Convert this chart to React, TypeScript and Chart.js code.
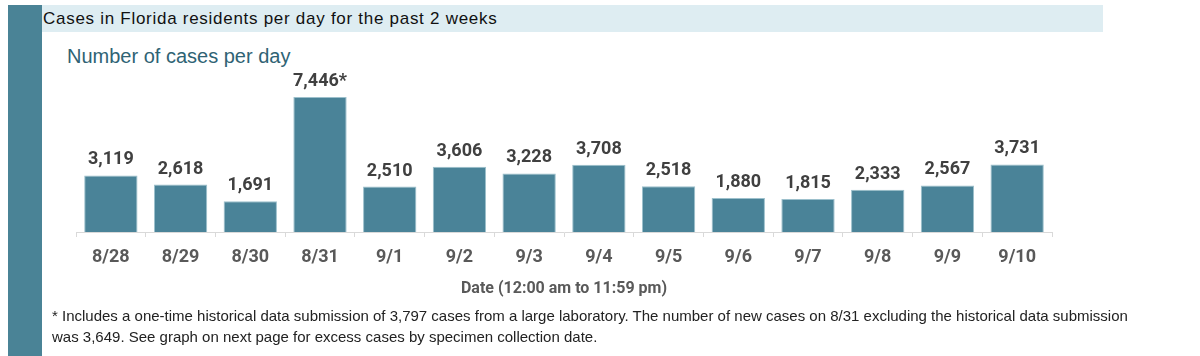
import React, { useEffect, useRef } from 'react';
import { Chart, registerables } from 'chart.js';

Chart.register(...registerables);

const categories = ['8/28', '8/29', '8/30', '8/31', '9/1', '9/2', '9/3', '9/4', '9/5', '9/6', '9/7', '9/8', '9/9', '9/10'];
const cases = [3119, 2618, 1691, 7446, 2510, 3606, 3228, 3708, 2518, 1880, 1815, 2333, 2567, 3731];
const labelMarks = ['', '', '', '*', '', '', '', '', '', '', '', '', '', ''];
const yMax = 8000;

const titleText = 'Cases in Florida residents per day for the past 2 weeks';
const subtitleText = 'Number of cases per day';
const xTitleText = 'Date (12:00 am to 11:59 pm)';
const footLine1 = '* Includes a one-time historical data submission of 3,797 cases from a large laboratory. The number of new cases on 8/31 excluding the historical data submission';
const footLine2 = 'was 3,649. See graph on next page for excess cases by specimen collection date.';

const narrowFont = 'Roboto, "Liberation Sans", sans-serif';

const valueLabels = {
  id: 'valueLabels',
  afterDatasetsDraw(chart: any) {
    const ctx = chart.ctx;
    const meta = chart.getDatasetMeta(0);
    ctx.save();
    ctx.font = `bold 18px ${narrowFont}`;
    ctx.fillStyle = '#404040';
    ctx.textAlign = 'center';
    ctx.textBaseline = 'alphabetic';
    meta.data.forEach((bar: any, i: number) => {
      ctx.fillText(cases[i].toLocaleString('en-US') + labelMarks[i], bar.x, bar.y - 11);
    });
    ctx.restore();
  },
};

export default function App() {
  const ref = useRef<HTMLCanvasElement | null>(null);

  useEffect(() => {
    if (!ref.current) return;
    const chart = new Chart(ref.current, {
      type: 'bar',
      data: {
        labels: categories,
        datasets: [
          {
            data: cases,
            backgroundColor: '#4a8398',
            borderColor: '#9cc0cc',
            borderWidth: 1,
            barPercentage: 0.765,
            categoryPercentage: 1,
          },
        ],
      },
      options: {
        responsive: false,
        animation: false,
        layout: { padding: { left: 76, right: 148, top: 87, bottom: 57 } },
        plugins: { legend: { display: false }, tooltip: { enabled: false }, title: { display: false } },
        scales: {
          x: {
            offset: true,
            grid: {
              display: true,
              drawOnChartArea: false,
              drawTicks: true,
              tickLength: 5,
              color: '#d9d9d9',
              offset: true,
            },
            border: { display: true, color: '#d9d9d9', width: 1 },
            ticks: {
              color: '#595959',
              font: { family: narrowFont, size: 18, weight: 'bold' },
              padding: 10,
              maxRotation: 0,
              autoSkip: false,
            },
            title: {
              display: true,
              text: xTitleText,
              color: '#595959',
              font: { family: narrowFont, size: 16, weight: 'bold' },
              padding: 0,
            },
            afterFit: (scale: any) => {
              scale.height = 67;
            },
          },
          y: { display: false, min: 0, max: yMax },
        },
      },
      plugins: [valueLabels],
    });
    return () => chart.destroy();
  }, []);

  return (
    <div
      style={{
        position: 'absolute',
        left: 0,
        top: 0,
        width: 1200,
        height: 356,
        background: '#ffffff',
        overflow: 'hidden',
        fontFamily: '"Liberation Sans", Arial, sans-serif',
      }}
    >
      <div style={{ position: 'absolute', left: 8, top: 5, width: 34, height: 351, background: '#4a8396' }} />
      <div style={{ position: 'absolute', left: 42, top: 5, width: 1061, height: 27, background: '#deedf2' }} />
      <div
        style={{
          position: 'absolute',
          left: 43,
          top: 5,
          height: 27,
          lineHeight: '27px',
          fontSize: 17,
          letterSpacing: '0.72px',
          color: '#111111',
          whiteSpace: 'nowrap',
        }}
      >
        {titleText}
      </div>
      <div
        style={{
          position: 'absolute',
          left: 67,
          top: 46,
          lineHeight: '20px',
          fontSize: 20,
          color: '#2f6374',
          whiteSpace: 'nowrap',
        }}
      >
        {subtitleText}
      </div>
      <canvas ref={ref} width={1200} height={356} style={{ position: 'absolute', left: 0, top: 0 }} />
      <div
        style={{
          position: 'absolute',
          left: 52,
          top: 305,
          lineHeight: '21px',
          fontSize: 15,
          color: '#222222',
          whiteSpace: 'nowrap',
        }}
      >
        {footLine1}
        <br />
        {footLine2}
      </div>
    </div>
  );
}
